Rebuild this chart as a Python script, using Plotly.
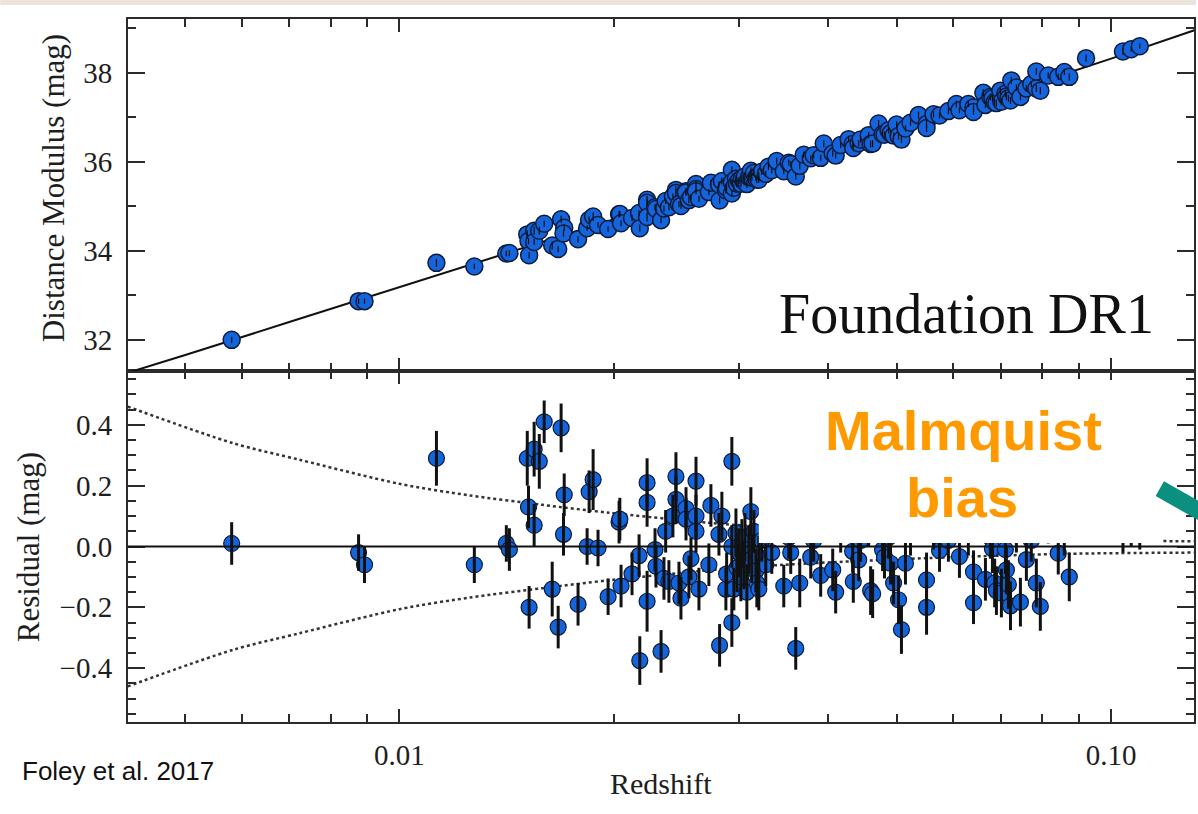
import plotly.graph_objects as go

# --- Foundation DR1 Hubble diagram: redshift, Hubble residual, uncertainty, distance modulus ---
redshift = [
    0.00581, 0.00876, 0.00893, 0.01127, 0.01274, 0.01413, 0.01427, 0.01512, 0.01518, 0.01521,
    0.01546, 0.01546, 0.01572, 0.01597, 0.01639, 0.01671, 0.01687, 0.01704, 0.01700, 0.01782,
    0.01835, 0.01847, 0.01871, 0.01901, 0.01964, 0.02035, 0.02040, 0.02048, 0.02122, 0.02171,
    0.02176, 0.02228, 0.02228, 0.02228, 0.02286, 0.02293, 0.02331, 0.02353, 0.02366, 0.02391,
    0.02422, 0.02446, 0.02446, 0.02470, 0.02486, 0.02527, 0.02527, 0.02551, 0.02568, 0.02610,
    0.02610, 0.02610, 0.02635, 0.02721, 0.02739, 0.02811, 0.02817, 0.02838, 0.02875, 0.02882,
    0.02931, 0.02931, 0.02931, 0.02950, 0.02970, 0.02980, 0.02999, 0.03018, 0.03028, 0.03048,
    0.03058, 0.03077, 0.03097, 0.03117, 0.03127, 0.03148, 0.03168, 0.03178, 0.03198, 0.03198,
    0.03229, 0.03271, 0.03299, 0.03335, 0.03389, 0.03467, 0.03524, 0.03546, 0.03604, 0.03651,
    0.03698, 0.03783, 0.03819, 0.03907, 0.03946, 0.04062, 0.04101, 0.04168, 0.04277, 0.04332,
    0.04342, 0.04418, 0.04446, 0.04563, 0.04592, 0.04622, 0.04712, 0.04773, 0.04803, 0.04867,
    0.04898, 0.04946, 0.04995, 0.05026, 0.05074, 0.05140, 0.05225, 0.05362, 0.05503, 0.05503,
    0.05628, 0.05739, 0.05906, 0.06061, 0.06121, 0.06300, 0.06406, 0.06406, 0.06613, 0.06658,
    0.06765, 0.06810, 0.06860, 0.06899, 0.06987, 0.07011, 0.07102, 0.07125, 0.07171, 0.07220,
    0.07240, 0.07359, 0.07456, 0.07601, 0.07723, 0.07850, 0.07850, 0.07952, 0.08157, 0.08427,
    0.08594, 0.08733, 0.09220, 0.10390, 0.10670, 0.10970,
]
resid = [
    0.01, -0.02, -0.06, 0.29, -0.06, 0.01, -0.01, 0.29, 0.13, -0.20,
    0.32, 0.07, 0.28, 0.41, -0.14, -0.265, 0.39, 0.17, 0.04, -0.19,
    0.00, 0.18, 0.22, -0.005, -0.165, 0.08, 0.09, -0.13, -0.09, -0.03,
    -0.375, 0.21, 0.145, -0.18, -0.01, -0.065, -0.345, -0.105, 0.05, -0.115,
    0.10, 0.23, 0.155, -0.12, -0.17, 0.125, 0.09, -0.10, -0.04, 0.215,
    0.10, 0.05, -0.14, -0.06, 0.135, 0.04, -0.325, 0.10, -0.14, -0.09,
    0.28, -0.25, 0.00, -0.14, 0.045, -0.07, -0.02, -0.10, 0.01, -0.06,
    0.03, -0.15, -0.01, 0.115, -0.04, 0.05, -0.08, -0.12, -0.035, -0.14,
    0.02, -0.06, 0.08, -0.02, 0.15, -0.13, 0.03, -0.02, -0.335, -0.12,
    0.10, -0.035, 0.02, -0.095, 0.20, -0.077, -0.15, 0.05, 0.12, -0.016,
    -0.115, -0.044, 0.02, 0.07, -0.145, -0.155, 0.25, -0.011, -0.035, 0.03,
    -0.055, -0.12, 0.10, -0.175, -0.273, -0.055, 0.04, 0.15, -0.11, -0.20,
    0.06, -0.013, 0.02, 0.12, -0.033, 0.04, -0.083, -0.185, 0.18, -0.108,
    0.03, -0.007, -0.12, -0.145, 0.10, -0.153, -0.01, -0.077, -0.125, -0.195,
    0.25, 0.05, -0.183, -0.043, 0.02, -0.12, 0.26, -0.197, 0.08, -0.022,
    0.04, -0.10, 0.19, 0.06, 0.05, 0.05,
]
resid_err = [
    0.07, 0.06, 0.06, 0.09, 0.06, 0.06, 0.07, 0.09, 0.07, 0.07,
    0.09, 0.07, 0.09, 0.07, 0.09, 0.07, 0.08, 0.07, 0.07, 0.07,
    0.06, 0.07, 0.10, 0.06, 0.06, 0.07, 0.07, 0.07, 0.07, 0.07,
    0.08, 0.08, 0.08, 0.10, 0.07, 0.07, 0.07, 0.07, 0.07, 0.07,
    0.07, 0.08, 0.08, 0.07, 0.07, 0.07, 0.07, 0.07, 0.07, 0.08,
    0.07, 0.07, 0.07, 0.07, 0.07, 0.07, 0.07, 0.08, 0.07, 0.07,
    0.08, 0.08, 0.07, 0.07, 0.08, 0.08, 0.08, 0.08, 0.08, 0.08,
    0.08, 0.09, 0.08, 0.08, 0.08, 0.07, 0.07, 0.08, 0.07, 0.07,
    0.07, 0.07, 0.07, 0.07, 0.08, 0.07, 0.07, 0.07, 0.07, 0.08,
    0.07, 0.07, 0.07, 0.07, 0.08, 0.07, 0.07, 0.07, 0.07, 0.07,
    0.07, 0.07, 0.07, 0.07, 0.08, 0.08, 0.08, 0.07, 0.07, 0.07,
    0.07, 0.07, 0.07, 0.08, 0.08, 0.07, 0.07, 0.08, 0.09, 0.09,
    0.07, 0.07, 0.07, 0.08, 0.07, 0.07, 0.07, 0.07, 0.08, 0.07,
    0.07, 0.08, 0.08, 0.08, 0.08, 0.08, 0.08, 0.08, 0.08, 0.08,
    0.08, 0.07, 0.08, 0.07, 0.07, 0.08, 0.08, 0.08, 0.07, 0.07,
    0.07, 0.08, 0.08, 0.08, 0.05, 0.06,
]
dist_mod = [
    32.00, 32.87, 32.87, 33.73, 33.65, 33.94, 33.95, 34.37, 34.22, 33.90,
    34.45, 34.20, 34.45, 34.61, 34.12, 34.04, 34.71, 34.52, 34.39, 34.26,
    34.51, 34.70, 34.77, 34.58, 34.49, 34.82, 34.83, 34.62, 34.74, 34.85,
    34.51, 35.15, 35.08, 34.76, 34.98, 34.94, 34.69, 34.95, 35.12, 34.98,
    35.22, 35.37, 35.30, 35.05, 35.01, 35.34, 35.31, 35.14, 35.21, 35.50,
    35.39, 35.34, 35.17, 35.32, 35.53, 35.49, 35.13, 35.57, 35.36, 35.42,
    35.82, 35.29, 35.54, 35.42, 35.62, 35.51, 35.58, 35.51, 35.63, 35.57,
    35.67, 35.50, 35.66, 35.80, 35.65, 35.75, 35.64, 35.60, 35.70, 35.60,
    35.78, 35.73, 35.89, 35.81, 36.02, 35.79, 35.98, 35.95, 35.67, 35.91,
    36.16, 36.08, 36.15, 36.09, 36.41, 36.19, 36.14, 36.38, 36.51, 36.40,
    36.31, 36.42, 36.50, 36.60, 36.40, 36.41, 36.86, 36.62, 36.61, 36.71,
    36.64, 36.59, 36.84, 36.58, 36.50, 36.75, 36.88, 37.05, 36.85, 36.76,
    37.07, 37.04, 37.14, 37.30, 37.16, 37.30, 37.22, 37.12, 37.55, 37.28,
    37.46, 37.43, 37.34, 37.32, 37.60, 37.35, 37.53, 37.47, 37.43, 37.38,
    37.83, 37.67, 37.46, 37.65, 37.75, 37.65, 38.03, 37.60, 37.94, 37.91,
    38.02, 37.91, 38.33, 38.48, 38.53, 38.60,
]

# best-fit cosmology curve in the Hubble diagram
line_z = [0.00415, 0.005, 0.007, 0.01, 0.015, 0.02, 0.03, 0.05, 0.07, 0.10, 0.131]
line_mu = [31.26, 31.66, 32.40, 33.18, 34.07, 34.70, 35.60, 36.74, 37.50, 38.32, 38.96]

# peculiar-velocity envelope for the residuals
env_z = [0.00415, 0.00583, 0.00724, 0.01, 0.01254, 0.01587, 0.0197, 0.02721, 0.03467, 0.05537, 0.08693, 0.1307]
env_hi = [0.46, 0.34, 0.285, 0.206, 0.168, 0.137, 0.111, 0.078, 0.060, 0.038, 0.022, 0.017]
env_lo = [-0.46, -0.34, -0.285, -0.206, -0.168, -0.137, -0.111, -0.078, -0.060, -0.038, -0.024, -0.020]

x_major = [0.01, 0.1]
x_major_text = ["0.01", "0.10"]
x_minor = [0.005, 0.006, 0.007, 0.008, 0.009, 0.02, 0.03, 0.04, 0.05, 0.06, 0.07, 0.08, 0.09]
mu_ticks = [32, 34, 36, 38]
mu_minor = [33, 35, 37, 39]
res_ticks = [-0.4, -0.2, 0.0, 0.2, 0.4]

# --- page geometry (pixels) ---
W, H = 1198, 814
L, R, T, B = 128, 2, 19, 92
PW, PH = W - L - R, H - T - B


def px(x):
    return (x - L) / PW


def py(y):
    return (H - B - y) / PH


split = py(371)

SERIF = "Liberation Serif"
SANS = "Liberation Sans"
AX = "#2b2b2b"
TXT = "#1e1e1e"
FILL = "#1464DC"
EDGE = "#0d1b3d"

fig = go.Figure()

# top panel: model curve, points, then error bars above the points
fig.add_trace(go.Scatter(x=line_z, y=line_mu, mode="lines", xaxis="x2", yaxis="y2",
                         line=dict(color="#111111", width=2), hoverinfo="skip"))
fig.add_trace(go.Scatter(x=redshift, y=dist_mod, mode="markers", xaxis="x2", yaxis="y2",
                         marker=dict(size=17, color=FILL, line=dict(color=EDGE, width=1.5))))
fig.add_trace(go.Scatter(x=redshift, y=dist_mod, mode="markers", xaxis="x2", yaxis="y2",
                         marker=dict(size=2, opacity=0),
                         error_y=dict(type="data", array=resid_err, thickness=1.2, width=0, color="#111111")))

# bottom panel: envelopes, points, error bars
env_line = dict(color="#333333", width=2.5, dash="dot", shape="spline", smoothing=0.8)
fig.add_trace(go.Scatter(x=env_z, y=env_hi, mode="lines", xaxis="x", yaxis="y",
                         line=env_line, hoverinfo="skip"))
fig.add_trace(go.Scatter(x=env_z, y=env_lo, mode="lines", xaxis="x", yaxis="y",
                         line=env_line, hoverinfo="skip"))
fig.add_trace(go.Scatter(x=redshift, y=resid, mode="markers", xaxis="x", yaxis="y",
                         marker=dict(size=16, color=FILL, line=dict(color=EDGE, width=1.2))))
fig.add_trace(go.Scatter(x=redshift, y=resid, mode="markers", xaxis="x", yaxis="y",
                         marker=dict(size=2, opacity=0),
                         error_y=dict(type="data", array=resid_err, thickness=3, width=0, color="#111111")))

tickfont = dict(family=SERIF, size=29, color=TXT)
xcommon = dict(type="log", range=[-2.38149, -0.88359], domain=[0, 1],
               tickmode="array", tickvals=x_major, ticktext=x_major_text,
               ticks="inside", ticklen=13, tickwidth=1.5, tickcolor=AX,
               minor=dict(tickmode="array", tickvals=x_minor, ticks="inside", ticklen=8,
                          tickwidth=1.5, tickcolor=AX),
               showline=True, linecolor=AX, linewidth=2, mirror="allticks",
               showgrid=False, zeroline=False, tickfont=tickfont, ticklabelstandoff=6)

fig.update_layout(
    width=W, height=H,
    margin=dict(l=L, r=R, t=T, b=B),
    paper_bgcolor="white", plot_bgcolor="white",
    showlegend=False,
    xaxis=dict(anchor="y", **xcommon),
    xaxis2=dict(anchor="y2", matches="x", showticklabels=False,
                **{k: v for k, v in xcommon.items() if k not in ("tickfont", "ticklabelstandoff")}),
    yaxis=dict(domain=[0, split], range=[-0.577, 0.577], tickmode="array", tickvals=res_ticks,
               tickformat=".1f", ticks="inside", ticklen=17, tickwidth=1.5, tickcolor=AX,
               minor=dict(tick0=0, dtick=0.05, ticks="inside", ticklen=8, tickwidth=1.5, tickcolor=AX),
               showline=True, linecolor=AX, linewidth=2, mirror="allticks",
               showgrid=False, zeroline=False, tickfont=tickfont, ticklabelstandoff=8),
    yaxis2=dict(domain=[split, 1], range=[31.30, 39.21], tickmode="array", tickvals=mu_ticks,
                ticks="inside", ticklen=17, tickwidth=1.5, tickcolor=AX,
                minor=dict(tickmode="array", tickvals=mu_minor, ticks="inside", ticklen=8,
                           tickwidth=1.5, tickcolor=AX),
                showline=True, linecolor=AX, linewidth=2, mirror="allticks",
                showgrid=False, zeroline=False, tickfont=tickfont, ticklabelstandoff=8),
)

shapes = [
    # slide band along the top
    dict(type="rect", xref="paper", yref="paper", x0=px(0), x1=px(W), y0=py(5), y1=py(0),
         fillcolor="#ECE4DA", line=dict(width=0), layer="below"),
    # zero-residual reference
    dict(type="line", xref="x domain", yref="y", x0=0, x1=1, y0=0, y1=0,
         line=dict(color="#111111", width=2), layer="above"),
    # white callout panel
    dict(type="rect", xref="paper", yref="paper", x0=px(760), x1=px(1165), y0=py(543), y1=py(380),
         fillcolor="white", line=dict(width=0), layer="above"),
    # teal pointer
    dict(type="line", xref="paper", yref="paper", x0=px(1161.7), y0=py(488.7), x1=px(1230), y1=py(527),
         line=dict(color="#0B9080", width=17), layer="above"),
]
fig.update_layout(shapes=shapes)

annotations = [
    dict(text="Foundation DR1", x=px(1158), y=py(314), xanchor="right", yanchor="middle",
         font=dict(family=SERIF, size=56, color="#111111")),
    dict(text="Malmquist", x=px(965), y=py(430), xanchor="center", yanchor="middle",
         font=dict(family=SANS, size=56, color="#FF9900", weight="bold")),
    dict(text="bias", x=px(964), y=py(497), xanchor="center", yanchor="middle",
         font=dict(family=SANS, size=56, color="#FF9900", weight="bold")),
    dict(text="Foley et al. 2017", x=px(20), y=py(771), xanchor="left", yanchor="middle",
         font=dict(family=SANS, size=26, color="#111111")),
    dict(text="Distance Modulus (mag)", x=px(54), y=py(188), xanchor="center", yanchor="middle",
         textangle=-90, font=dict(family=SERIF, size=31, color=TXT)),
    dict(text="Residual (mag)", x=px(28), y=py(547), xanchor="center", yanchor="middle",
         textangle=-90, font=dict(family=SERIF, size=31, color=TXT)),
    dict(text="Redshift", x=px(662), y=py(783), xanchor="center", yanchor="middle",
         font=dict(family=SERIF, size=30, color=TXT)),
]
for a in annotations:
    a.update(xref="paper", yref="paper", showarrow=False)
fig.update_layout(annotations=annotations)

fig.write_html("out.html")
